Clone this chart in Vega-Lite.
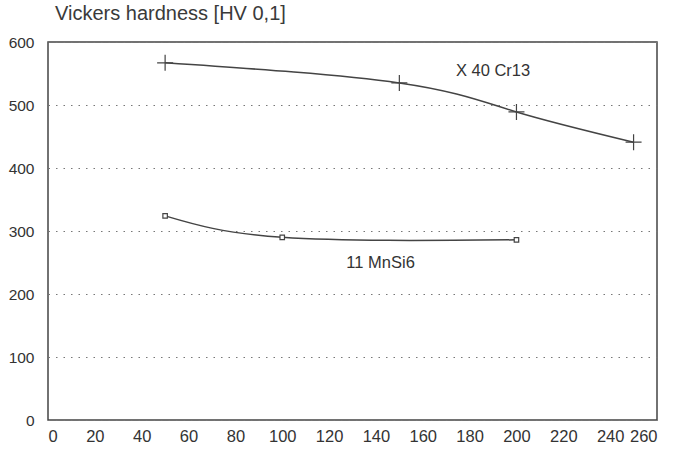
{
  "$schema": "https://vega.github.io/schema/vega-lite/v6.json",
  "width": 609,
  "height": 378,
  "autosize": "none",
  "padding": {"left": 48, "top": 42, "right": 16, "bottom": 33},
  "background": "white",
  "title": {
    "text": "Vickers hardness [HV 0,1]",
    "anchor": "start",
    "frame": "group",
    "dx": 7,
    "offset": 11,
    "font": "Liberation Sans",
    "fontSize": 20,
    "fontWeight": "normal",
    "color": "#3a3a3a"
  },
  "config": {
    "view": {"stroke": "#444", "strokeWidth": 1.5},
    "axis": {
      "labelFont": "Liberation Sans",
      "labelColor": "#333",
      "domain": false,
      "ticks": false,
      "title": null
    }
  },
  "datasets": {
    "curves": [
      {"steel": "X 40 Cr13", "temp": 50, "hv": 567},
      {"steel": "X 40 Cr13", "temp": 150, "hv": 535},
      {"steel": "X 40 Cr13", "temp": 200, "hv": 489},
      {"steel": "X 40 Cr13", "temp": 250, "hv": 441},
      {"steel": "11 MnSi6", "temp": 50, "hv": 324},
      {"steel": "11 MnSi6", "temp": 100, "hv": 290},
      {"steel": "11 MnSi6", "temp": 200, "hv": 286}
    ],
    "labels": [
      {"steel": "X 40 Cr13", "temp": 190, "hv": 554},
      {"steel": "11 MnSi6", "temp": 142, "hv": 249}
    ]
  },
  "layer": [
    {
      "data": {"name": "curves"},
      "mark": {"type": "line", "interpolate": "natural", "color": "#444", "strokeWidth": 1.5},
      "encoding": {
        "x": {"field": "temp", "type": "quantitative", "scale": {"domain": [0, 260], "nice": false},
          "axis": {"values": [0,20,40,60,80,100,120,140,160,180,200,220,240,260], "grid": false, "labelPadding": 8, "labelFontSize": 16.5}},
        "y": {"field": "hv", "type": "quantitative", "scale": {"domain": [0, 600], "nice": false},
          "axis": {"values": [0,100,200,300,400,500,600], "grid": true, "gridColor": "#777", "gridDash": [1.5, 6], "gridWidth": 1.2, "labelPadding": 14, "labelFontSize": 15.5}},
        "detail": {"field": "steel"}
      }
    },
    {
      "data": {"name": "curves"},
      "transform": [{"filter": "datum.steel == 'X 40 Cr13'"}],
      "mark": {"type": "point", "shape": "M-1,0L1,0M0,-1L0,1", "size": 256, "filled": false, "stroke": "#444", "strokeWidth": 1.2, "opacity": 1},
      "encoding": {
        "x": {"field": "temp", "type": "quantitative"},
        "y": {"field": "hv", "type": "quantitative"}
      }
    },
    {
      "data": {"name": "curves"},
      "transform": [{"filter": "datum.steel == '11 MnSi6'"}],
      "mark": {"type": "point", "shape": "square", "size": 20, "filled": true, "fill": "white", "stroke": "#444", "strokeWidth": 1.2, "opacity": 1},
      "encoding": {
        "x": {"field": "temp", "type": "quantitative"},
        "y": {"field": "hv", "type": "quantitative"}
      }
    },
    {
      "data": {"name": "labels"},
      "mark": {"type": "text", "font": "Liberation Sans", "fontSize": 16.5, "color": "#333", "align": "center", "baseline": "middle"},
      "encoding": {
        "x": {"field": "temp", "type": "quantitative"},
        "y": {"field": "hv", "type": "quantitative"},
        "text": {"field": "steel"}
      }
    }
  ]
}
